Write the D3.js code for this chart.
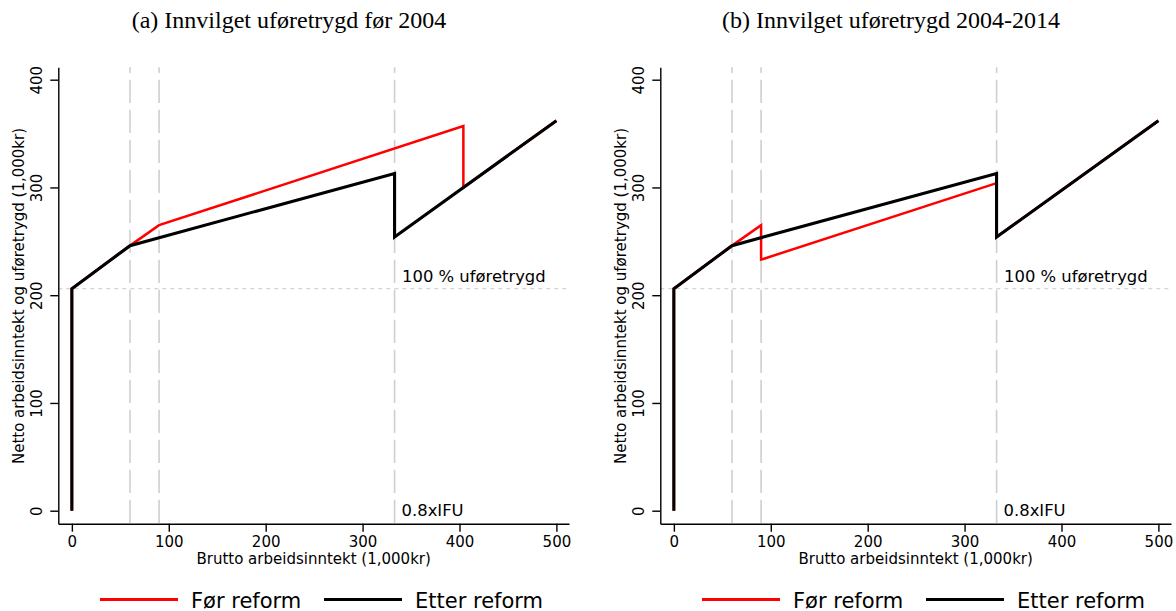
<!DOCTYPE html>
<html>
<head>
<meta charset="utf-8">
<script src="https://cdn.jsdelivr.net/npm/d3@7"></script>
<style>
  html, body { margin: 0; padding: 0; background: #fff; }
  svg { display: block; }
  .sans { font-family: "DejaVu Sans", sans-serif; }
</style>
</head>
<body>
<script>
// Axis ticks
const xTicks = [0, 100, 200, 300, 400, 500];
const yTicks = [0, 100, 200, 300, 400];

// Panel titles
const panelTitles = ["(a) Innvilget uføretrygd før 2004", "(b) Innvilget uføretrygd 2004-2014"];

// Reference levels (1,000 kr)
const incomeThresholds = [60, 90, 333];   // vertical guides
const fullBenefit = 206;                 // horizontal guide: 100 % uføretrygd

// "Etter reform" (same in both panels): gross income -> net income
const etterX = [0, 0, 60, 333, 333, 500];
const etterY = [0, 206, 246, 313, 254, 362];

// "Før reform", panel (a)
const forAX = [0, 0, 60, 90, 404, 404, 500];
const forAY = [0, 206, 246, 265, 357, 300, 362];

// "Før reform", panel (b)
const forBX = [0, 0, 60, 90, 90, 333, 333, 500];
const forBY = [0, 206, 246, 265, 233, 304, 254, 362];

const seriesNames = ["Før reform", "Etter reform"];
const seriesColors = ["#ff0000", "#000000"];
const seriesWidths = [2.5, 3.1];

const W = 1176, H = 611;
const svg = d3.select("body").append("svg").attr("width", W).attr("height", H);

const panels = [
  { title: panelTitles[0], before: [forAX, forAY], after: [etterX, etterY] },
  { title: panelTitles[1], before: [forBX, forBY], after: [etterX, etterY] }
];

const panelShift = 602;

panels.forEach((p, i) => {
  const g = svg.append("g").attr("transform", `translate(${i * panelShift},0)`);

  const x = d3.scaleLinear().domain([-14, 513]).range([58.3, 569]);
  const y = d3.scaleLinear().domain([-12.06, 411.5]).range([523.7, 67.3]);

  // Title
  g.append("text")
    .attr("x", 289).attr("y", 27.5)
    .attr("text-anchor", "middle")
    .style("font-family", "'Liberation Serif', 'Times New Roman', serif")
    .style("font-size", "24px")
    .attr("fill", "#000")
    .text(p.title);

  // Vertical guides
  g.selectAll(".vguide").data(incomeThresholds).enter().append("line")
    .attr("x1", d => x(d)).attr("x2", d => x(d))
    .attr("y1", y.range()[1]).attr("y2", y.range()[0])
    .attr("stroke", "#cfcfcf").attr("stroke-width", 1.6)
    .attr("stroke-dasharray", "23.4,6.6").attr("stroke-dashoffset", 17.6);

  // Horizontal guide
  g.append("line")
    .attr("x1", x.range()[0]).attr("x2", x.range()[1])
    .attr("y1", y(fullBenefit)).attr("y2", y(fullBenefit))
    .attr("stroke", "#c8c8c8").attr("stroke-width", 1.2)
    .attr("stroke-dasharray", "4,4");

  // Guide labels
  g.append("text").attr("class", "sans")
    .attr("x", x(incomeThresholds[2]) + 7.5).attr("y", y(fullBenefit) - 6.5)
    .style("font-size", "16.4px").attr("fill", "#000")
    .text("100 % uføretrygd");
  g.append("text").attr("class", "sans")
    .attr("x", x(incomeThresholds[2]) + 7).attr("y", 516)
    .style("font-size", "16.4px").attr("fill", "#000")
    .text("0.8xIFU");

  // Series (black drawn last, slightly wider, so shared stretches read as black)
  const line = d3.line().x(d => x(d[0])).y(d => y(d[1]));
  const pts = arr => arr[0].map((v, k) => [v, arr[1][k]]);
  [p.before, p.after].forEach((s, k) => {
    g.append("path").datum(pts(s))
      .attr("d", line)
      .attr("fill", "none")
      .attr("stroke", seriesColors[k])
      .attr("stroke-width", seriesWidths[k])
      .attr("stroke-linejoin", "miter");
  });

  // Axes
  const xAxis = g.append("g").attr("transform", `translate(0,${y.range()[0]})`)
    .call(d3.axisBottom(x).tickValues(xTicks).tickSize(8).tickSizeOuter(0).tickPadding(5));
  xAxis.selectAll("text").attr("class", "sans").style("font-size", "15px").attr("fill", "#000");
  const yAxis = g.append("g").attr("transform", `translate(${x.range()[0]},0)`)
    .call(d3.axisLeft(y).tickValues(yTicks).tickSize(8).tickSizeOuter(0));
  yAxis.selectAll("text").attr("class", "sans").style("font-size", "15px").attr("fill", "#000")
    .attr("transform", "rotate(-90)")
    .attr("x", 0).attr("y", -16.6).attr("dy", 0)
    .attr("text-anchor", "middle");
  [xAxis, yAxis].forEach(a => {
    a.attr("font-family", null).attr("font-size", null);
    a.select(".domain").attr("stroke", "#000").attr("stroke-width", 1.4);
    a.selectAll(".tick line").attr("stroke", "#000").attr("stroke-width", 1.4);
  });

  // Axis titles
  g.append("text").attr("class", "sans")
    .attr("x", (x.range()[0] + x.range()[1]) / 2).attr("y", 564)
    .attr("text-anchor", "middle").style("font-size", "15px").attr("fill", "#000")
    .text("Brutto arbeidsinntekt (1,000kr)");
  g.append("text").attr("class", "sans")
    .attr("transform", "translate(24,296) rotate(-90)")
    .attr("text-anchor", "middle").style("font-size", "15px").attr("fill", "#000")
    .text("Netto arbeidsinntekt og uføretrygd (1,000kr)");

  // Legend
  const legendItems = [
    { name: seriesNames[0], color: seriesColors[0], x0: 100 },
    { name: seriesNames[1], color: seriesColors[1], x0: 324 }
  ];
  legendItems.forEach(it => {
    g.append("line")
      .attr("x1", it.x0).attr("x2", it.x0 + 78)
      .attr("y1", 599.5).attr("y2", 599.5)
      .attr("stroke", it.color).attr("stroke-width", 2.8);
    g.append("text").attr("class", "sans")
      .attr("x", it.x0 + 91).attr("y", 607.5)
      .style("font-size", "21px").attr("fill", "#000")
      .text(it.name);
  });
});
</script>
</body>
</html>
